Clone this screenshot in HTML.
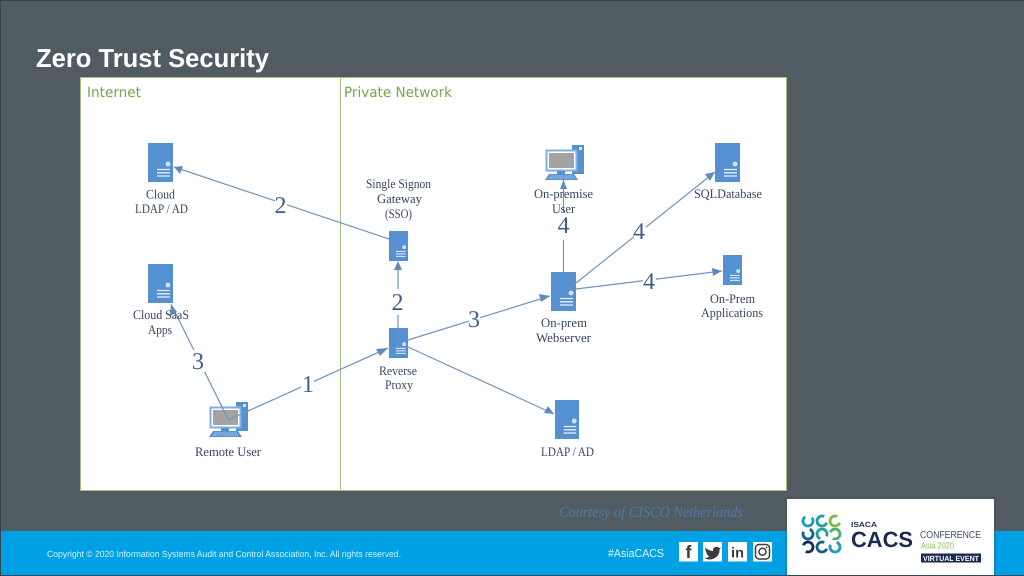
<!DOCTYPE html>
<html>
<head>
<meta charset="utf-8">
<title>Zero Trust Security</title>
<style>
html,body{margin:0;padding:0;background:#505c62}
svg{display:block;text-rendering:geometricPrecision}
.n{font-family:"Liberation Serif",serif;font-size:13px;fill:#3a4660}
.c{stroke:#6f94bd;stroke-width:1.2;fill:none}
.a{fill:#5b8bc2}
.l{font-family:"Liberation Serif",serif;font-size:24px;fill:#3f5f8a;text-anchor:middle}
.g{font-family:"DejaVu Sans","Liberation Sans",sans-serif;font-size:14px;fill:#70a84a}
.s{font-family:"Liberation Sans",sans-serif}
</style>
</head>
<body>
<svg xmlns="http://www.w3.org/2000/svg" width="1024" height="576" viewBox="0 0 1024 576">
<defs>
<symbol id="srv" viewBox="0 0 25 39" preserveAspectRatio="none">
<rect width="25" height="39" fill="#5590d1"/>
<circle cx="20" cy="21" r="2" fill="#c8dcf2" stroke="#e6f0fa" stroke-width="0.8"/>
<path d="M9 26.500H22M9 29.800H22M9 33H22" stroke="#e6f0fa" stroke-width="1.300"/>
</symbol>
<symbol id="pc" viewBox="0 0 39 35">
<rect x="27" y="0" width="12" height="29" fill="#5590d1"/>
<rect x="34" y="2" width="3" height="3" fill="#dbe8f6"/>
<rect x="1.500" y="5.500" width="30" height="20" fill="#ffffff" stroke="#7fb0e0" stroke-width="2"/>
<rect x="4" y="8" width="25" height="15" fill="#a3a3a3"/>
<rect x="12" y="26" width="8" height="3" fill="#5590d1"/>
<path d="M4 29H29L33 35H0Z" fill="#5590d1"/>
<path d="M5 31H28M3.500 33H30" stroke="#dbe8f6" stroke-width="0.700" stroke-dasharray="1.500 0.700"/>
</symbol>
</defs>

<rect width="1024" height="576" fill="#505c62"/>
<rect width="1024" height="1" fill="#3b4449"/>
<rect width="1" height="576" fill="#3b4449"/>
<rect x="1" y="531" width="1023" height="44" fill="#00a1e4"/>
<rect y="575" width="1024" height="1" fill="#2f4552"/>

<text x="36" y="67" class="s" font-size="26" font-weight="700" fill="#ffffff" textLength="233" lengthAdjust="spacingAndGlyphs">Zero Trust Security</text>

<rect x="80.500" y="77.500" width="706" height="413" fill="#ffffff" stroke="#a3c07c" stroke-width="1"/>
<line x1="340.500" y1="77" x2="340.500" y2="491" stroke="#a3c07c" stroke-width="1"/>
<text x="87" y="97" class="g" textLength="54" lengthAdjust="spacingAndGlyphs">Internet</text>
<text x="344" y="97" class="g" textLength="108" lengthAdjust="spacingAndGlyphs">Private Network</text>

<!-- connectors under nodes -->
<path class="c" d="M389 239L174 167"/>
<path class="c" d="M398 290V262"/>
<path class="c" d="M398 315V328"/>
<path class="c" d="M228 420L388 348"/>
<path class="c" d="M228 419L171 304"/>
<path class="c" d="M408 340L550 296"/>
<path class="c" d="M408 347L554 414"/>
<path class="c" d="M563.500 272V180"/>
<path class="c" d="M576 283L715 172"/>
<path class="c" d="M576 289L722 271"/>

<!-- nodes -->
<use href="#srv" x="148" y="143" width="25" height="39"/>
<use href="#srv" x="148" y="264" width="25" height="39"/>
<use href="#srv" x="389" y="231" width="19" height="30"/>
<use href="#srv" x="389" y="328" width="19" height="30"/>
<use href="#srv" x="551" y="272" width="25" height="39"/>
<use href="#srv" x="555" y="400" width="24" height="39"/>
<use href="#srv" x="715" y="143" width="25" height="39"/>
<use href="#srv" x="723" y="255" width="19" height="30"/>
<use href="#pc" x="209" y="402" width="39" height="35"/>
<use href="#pc" x="545" y="145" width="39" height="35"/>

<!-- connector pieces drawn over nodes -->
<path class="c" d="M398 328V346"/>
<path class="c" d="M228 420L250 410"/>
<path class="c" d="M228 419L219 401"/>
<path class="c" d="M576 283L563 293"/>
<path class="c" d="M563.500 180V172"/>

<!-- arrowheads -->
<path class="a" d="M174 167L183 166L180 174Z"/>
<path class="a" d="M398 261L402 270H394Z"/>
<path class="a" d="M388 348L380 356L376 349Z"/>
<path class="a" d="M171 304L177 312L170 316Z"/>
<path class="a" d="M550 296L541 302L539 294Z"/>
<path class="a" d="M554 414L544 413L548 406Z"/>
<path class="a" d="M563.500 180L567 189H560Z"/>
<path class="a" d="M715 172L710 181L705 174Z"/>
<path class="a" d="M722 271L713 276L712 268Z"/>

<!-- node labels -->
<g>
<text class="n" x="146" y="198.500" textLength="29" lengthAdjust="spacingAndGlyphs">Cloud</text>
<text class="n" x="135" y="213" textLength="53" lengthAdjust="spacingAndGlyphs">LDAP / AD</text>
<text class="n" x="133" y="319" textLength="56" lengthAdjust="spacingAndGlyphs">Cloud SaaS</text>
<text class="n" x="148" y="334" textLength="24" lengthAdjust="spacingAndGlyphs">Apps</text>
<text class="n" x="195" y="456" textLength="66" lengthAdjust="spacingAndGlyphs">Remote User</text>
<text class="n" x="366" y="188" textLength="65" lengthAdjust="spacingAndGlyphs">Single Signon</text>
<text class="n" x="377" y="203" textLength="45" lengthAdjust="spacingAndGlyphs">Gateway</text>
<text class="n" x="385" y="218" textLength="27" lengthAdjust="spacingAndGlyphs">(SSO)</text>
<text class="n" x="379" y="375" textLength="38" lengthAdjust="spacingAndGlyphs">Reverse</text>
<text class="n" x="385" y="389" textLength="28" lengthAdjust="spacingAndGlyphs">Proxy</text>
<text class="n" x="534" y="198" textLength="59" lengthAdjust="spacingAndGlyphs">On-premise</text>
<text class="n" x="552" y="213" textLength="23" lengthAdjust="spacingAndGlyphs">User</text>
<text class="n" x="541" y="327" textLength="46" lengthAdjust="spacingAndGlyphs">On-prem</text>
<text class="n" x="536" y="342" textLength="55" lengthAdjust="spacingAndGlyphs">Webserver</text>
<text class="n" x="541" y="456" textLength="53" lengthAdjust="spacingAndGlyphs">LDAP / AD</text>
<text class="n" x="694" y="198" textLength="68" lengthAdjust="spacingAndGlyphs">SQLDatabase</text>
<text class="n" x="710" y="303" textLength="45" lengthAdjust="spacingAndGlyphs">On-Prem</text>
<text class="n" x="701" y="317" textLength="62" lengthAdjust="spacingAndGlyphs">Applications</text>
</g>

<!-- step labels -->
<g>
<rect x="275" y="195" width="12" height="22" fill="#ffffff"/>
<text class="l" x="280.500" y="213">2</text>
<rect x="391" y="289" width="14" height="26" fill="#ffffff"/>
<text class="l" x="397.500" y="310">2</text>
<rect x="192" y="350" width="13" height="22" fill="#ffffff"/>
<text class="l" x="198" y="369">3</text>
<rect x="301" y="373" width="13" height="22" fill="#ffffff"/>
<text class="l" x="308" y="392">1</text>
<rect x="469" y="308" width="11" height="22" fill="#ffffff"/>
<text class="l" x="474" y="327">3</text>
<rect x="557" y="213" width="13" height="27" fill="#ffffff"/>
<text class="l" x="563.500" y="233">4</text>
<rect x="634" y="220" width="12" height="22" fill="#ffffff"/>
<text class="l" x="639" y="239">4</text>
<rect x="643" y="270" width="13" height="22" fill="#ffffff"/>
<text class="l" x="649" y="289">4</text>
</g>

<text x="559" y="517" font-family="Liberation Serif,serif" font-style="italic" font-size="15.500" fill="#4d7aa8" textLength="184" lengthAdjust="spacingAndGlyphs">Courtesy of CISCO Netherlands</text>

<!-- footer -->
<text x="47" y="557" class="s" font-size="9" fill="#d8f0fb" textLength="354" lengthAdjust="spacingAndGlyphs">Copyright © 2020 Information Systems Audit and Control Association, Inc. All rights reserved.</text>
<text x="608" y="557" class="s" font-size="11.500" fill="#e3f4fc" textLength="56" lengthAdjust="spacingAndGlyphs">#AsiaCACS</text>

<rect x="679" y="542" width="19" height="19.500" fill="#ffffff"/>
<text x="688.500" y="558" font-family="Liberation Sans,sans-serif" font-weight="700" font-size="18" fill="#3c3c3c" text-anchor="middle">f</text>
<rect x="703" y="542" width="19" height="19.500" fill="#ffffff"/>
<path d="M705 547.500C708 550 711 551 713 551C712.500 547 717 545.500 719 548L721 547.500L719.500 549.500C720 555 715 559.500 709.500 559.500C707.500 559.500 706 559 704.500 558C706.500 558 708 557.500 709.500 556.500C707.500 556 706 553 705 547.500Z" fill="#3c3c3c"/>
<rect x="728" y="542" width="19" height="19.500" fill="#ffffff"/>
<text x="737.500" y="557.500" font-family="Liberation Sans,sans-serif" font-weight="700" font-size="14.500" fill="#3c3c3c" text-anchor="middle">in</text>
<rect x="753" y="542" width="19" height="19.500" fill="#ffffff"/>
<rect x="755.500" y="544.500" width="14" height="14.500" rx="3.500" fill="none" stroke="#3c3c3c" stroke-width="1.500"/>
<circle cx="762.500" cy="551.700" r="3.500" fill="none" stroke="#3c3c3c" stroke-width="1.500"/>
<circle cx="766.500" cy="547.500" r="0.900" fill="#3c3c3c"/>

<!-- logo card -->
<rect x="785" y="497" width="211" height="79" fill="#3a4348" fill-opacity="0.250"/>
<rect x="787" y="499" width="207" height="76" fill="#ffffff"/>
<g fill="none" stroke-width="2.800" stroke-dasharray="24 7.400">
<circle cx="808" cy="521" r="5" stroke="#1d9ac0" transform="rotate(-40 808 521)"/>
<circle cx="822" cy="521" r="5" stroke="#1e9fa0" transform="rotate(20 822 521)"/>
<circle cx="835" cy="521" r="5" stroke="#7dbb45" transform="rotate(20 835 521)"/>
<circle cx="808" cy="534" r="5" stroke="#14618a" transform="rotate(-70 808 534)"/>
<circle cx="822" cy="534" r="5" stroke="#1e9fa0" transform="rotate(110 822 534)"/>
<circle cx="835" cy="534" r="5" stroke="#4fae72" transform="rotate(200 835 534)"/>
<circle cx="808" cy="547" r="5" stroke="#1b2a52" transform="rotate(200 808 547)"/>
<circle cx="822" cy="547" r="5" stroke="#14618a" transform="rotate(20 822 547)"/>
<circle cx="835" cy="547" r="5" stroke="#1d9ac0" transform="rotate(-70 835 547)"/>
</g>
<text x="851" y="527" class="s" font-size="7.500" font-weight="700" fill="#1b2a52" textLength="26" lengthAdjust="spacingAndGlyphs">ISACA</text>
<text x="851" y="547" class="s" font-size="22" font-weight="700" fill="#1b2a52" textLength="62" lengthAdjust="spacingAndGlyphs">CACS</text>
<text x="920" y="538" class="s" font-size="10" fill="#3f4a63" textLength="61" lengthAdjust="spacingAndGlyphs">CONFERENCE</text>
<text x="921" y="548.500" class="s" font-size="9" fill="#8cc063" textLength="33" lengthAdjust="spacingAndGlyphs">Asia 2020</text>
<rect x="921" y="553.500" width="60" height="9" fill="#1b2a52"/>
<text x="923" y="561" class="s" font-size="7.500" font-weight="700" fill="#ffffff" textLength="56" lengthAdjust="spacingAndGlyphs">VIRTUAL EVENT</text>
</svg>
</body>
</html>
